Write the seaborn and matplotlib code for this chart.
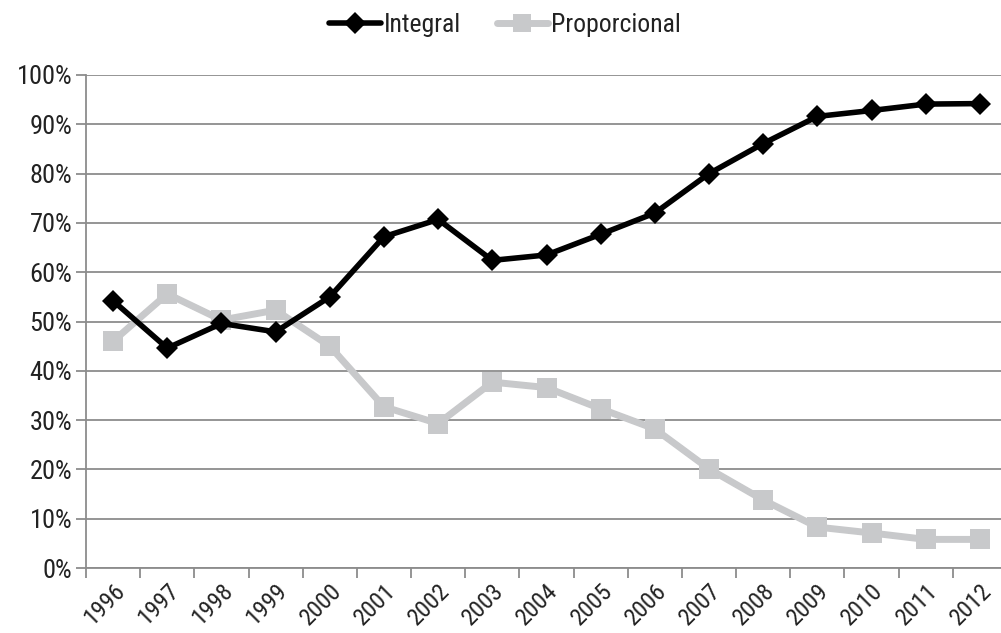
import matplotlib
matplotlib.use("Agg")
import matplotlib.pyplot as plt
from matplotlib import font_manager
from matplotlib.lines import Line2D
import seaborn as sns
import pandas as pd
import numpy as np

years = [str(y) for y in range(1996, 2013)]
integral = [54.2, 44.6, 49.6, 47.9, 55.0, 67.2, 70.7, 62.4, 63.5, 67.7, 72.0, 80.0, 86.1, 91.6, 92.8, 94.1, 94.2]
proporcional = [46.0, 55.6, 50.3, 52.3, 45.0, 32.7, 29.3, 37.7, 36.6, 32.3, 28.2, 20.1, 13.8, 8.3, 7.1, 5.8, 5.8]
series_names = ["Integral", "Proporcional"]
y_ticks = [0, 10, 20, 30, 40, 50, 60, 70, 80, 90, 100]

sns.set_theme(style="white")
avail = {f.name for f in font_manager.fontManager.ttflist}
fam = "DejaVu Sans"
for cand in ["Liberation Sans Narrow", "Roboto Condensed", "Open Sans Condensed", "Lato"]:
    if cand in avail:
        fam = cand
        break
plt.rcParams['font.family'] = [fam, 'DejaVu Sans']

df = pd.DataFrame({
    "pos": list(range(len(years))) * 2,
    "value": integral + proporcional,
    "serie": [series_names[0]] * len(years) + [series_names[1]] * len(years),
})

fig = plt.figure(figsize=(10.01, 6.33), dpi=100)
W, H = 1001, 633
left, right, top, bottom = 86, 1007, 75, 568
ax = fig.add_axes([left / W, 1 - bottom / H, (right - left) / W, (bottom - top) / H])

gray = "#c8c9cb"
sns.lineplot(data=df[df.serie == "Proporcional"], x="pos", y="value", color=gray,
             lw=5, marker="s", markersize=14, markeredgewidth=0, ax=ax, legend=False, zorder=3)
ax.plot(range(len(years)), proporcional, color="#e8a0a0", lw=0.6, zorder=3.5, alpha=0.6)
ax.plot(range(len(years)), proporcional, color=gray, lw=3.6, marker="s",
        markersize=14, markeredgewidth=0, zorder=3.6)
sns.lineplot(data=df[df.serie == "Integral"], x="pos", y="value", color="#000000",
             lw=4, marker="D", markersize=11.5, markeredgewidth=0, ax=ax, legend=False, zorder=4)

ax.set_xlim(-0.5, len(years) - 0.5)
ax.set_ylim(0, 100)
ax.set_yticks(y_ticks)
ax.set_yticklabels([f"{v}%" for v in y_ticks], fontsize=19, color="#222222")
ax.yaxis.grid(True, color="#8c8c8c", lw=1.3)
ax.set_axisbelow(True)

ax.set_xticks(range(len(years)))
ax.set_xticklabels(years, rotation=45, ha="right", rotation_mode="anchor", fontsize=17.5, color="#222222")
ax.set_xticks(np.arange(-0.5, len(years), 1), minor=True)
ax.tick_params(axis="x", which="major", length=0, pad=8)
ax.tick_params(axis="x", which="minor", length=7, width=1.3, color="#8c8c8c", direction="out", bottom=True)
ax.tick_params(axis="y", length=7, width=1.3, color="#8c8c8c", direction="out", left=True, pad=3)
ax.set_xlabel("")
ax.set_ylabel("")

for s in ["top", "right"]:
    ax.spines[s].set_visible(False)
for s in ["left", "bottom"]:
    ax.spines[s].set_color("#8c8c8c")
    ax.spines[s].set_linewidth(1.3)

handles = [
    Line2D([], [], color="#000000", lw=4, marker="D", markersize=11, markeredgewidth=0),
    Line2D([], [], color=gray, lw=5, marker="s", markersize=13, markeredgewidth=0),
]
leg = fig.legend(handles, series_names, loc="center", bbox_to_anchor=(505 / W, 1 - 25 / H), ncol=2,
                 frameon=False, fontsize=18.5, handlelength=2.0, handletextpad=0.1, columnspacing=1.4)
for t in leg.get_texts():
    t.set_color("#222222")

fig.savefig("out.png", dpi=100)
